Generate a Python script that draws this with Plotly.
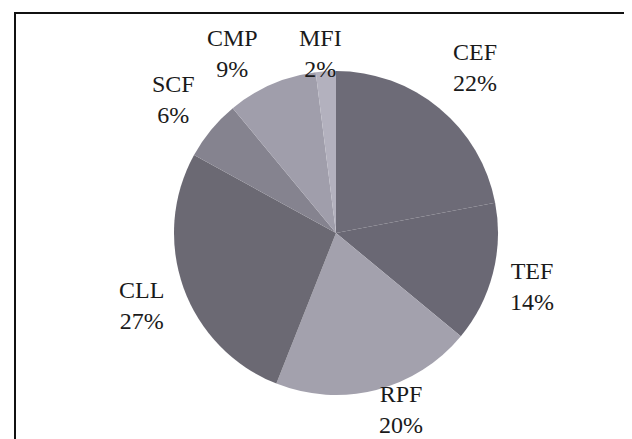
import plotly.graph_objects as go

# Data
categories = ["CEF", "TEF", "RPF", "CLL", "SCF", "CMP", "MFI"]
values = [22, 14, 20, 27, 6, 9, 2]
percent_labels = ["22%", "14%", "20%", "27%", "6%", "9%", "2%"]

# Style
colors = ["#6d6b77", "#6a6874", "#a3a1ad", "#6b6973", "#85838f", "#a09eab", "#b3b1be"]
W, H = 632, 439
cx, cy, r = 328, 225, 162
# label anchor positions in pixels (x, y from top)
label_pos = [(467, 60), (524, 278), (393, 401), (133, 297), (165, 91), (224, 45), (312, 45)]

fig = go.Figure()
fig.add_trace(go.Pie(
    labels=categories,
    values=values,
    sort=False,
    direction="clockwise",
    rotation=0,
    marker=dict(colors=colors, line=dict(width=0)),
    textinfo="none",
    hoverinfo="label+percent",
    showlegend=False,
    domain=dict(x=[(cx - r) / W, (cx + r) / W], y=[(H - cy - r) / H, (H - cy + r) / H]),
))

annotations = []
for cat, pct, (px, py) in zip(categories, percent_labels, label_pos):
    annotations.append(dict(
        x=px / W, y=1 - py / H, xref="paper", yref="paper",
        text=f"{cat}<br>{pct}", showarrow=False,
        xanchor="center", yanchor="middle",
        font=dict(family="Liberation Serif", size=24, color="#1a1a1a"),
    ))

fig.update_layout(
    width=W, height=H,
    margin=dict(l=0, r=0, t=0, b=0),
    paper_bgcolor="white",
    plot_bgcolor="white",
    annotations=annotations,
    shapes=[dict(type="rect", xref="paper", yref="paper",
                 x0=7 / W, x1=627 / W, y0=-0.05, y1=1 - 5 / H,
                 line=dict(color="#111111", width=2))],
)

fig.write_html("out.html")
